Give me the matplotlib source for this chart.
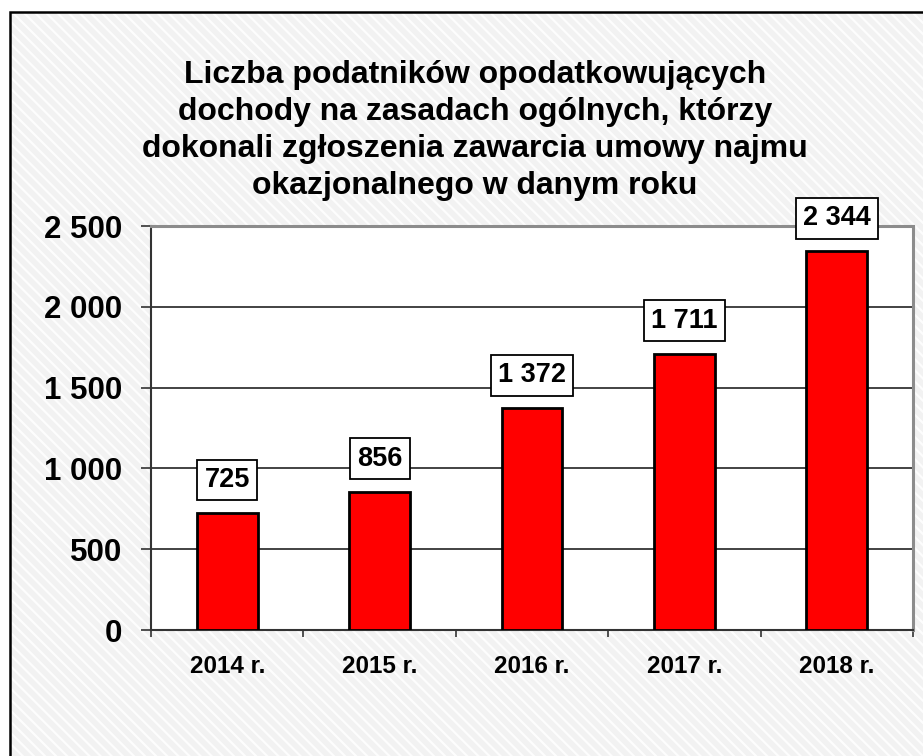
import matplotlib
matplotlib.use("Agg")
import matplotlib.pyplot as plt
from matplotlib.patches import Rectangle

categories = ["2014 r.", "2015 r.", "2016 r.", "2017 r.", "2018 r."]
values = [725, 856, 1372, 1711, 2344]
yticks = [0, 500, 1000, 1500, 2000, 2500]
title_lines = [
    "Liczba podatników opodatkowujących",
    "dochody na zasadach ogólnych, którzy",
    "dokonali zgłoszenia zawarcia umowy najmu",
    "okazjonalnego w danym roku",
]

def fmt(v):
    return f"{v:,}".replace(",", " ")

plt.rcParams['font.family'] = ['Liberation Sans', 'DejaVu Sans']
plt.rcParams['font.weight'] = 'bold'
plt.rcParams['hatch.linewidth'] = 1.6
plt.rcParams['hatch.color'] = '#fdfdfd'

W, H = 923, 756
fig = plt.figure(figsize=(W / 100, H / 100), dpi=100, facecolor='white')

# background with diagonal hatch
bg = Rectangle((10 / W, 0), 1.0, 1 - 12 / H, transform=fig.transFigure,
               facecolor='#f2f2f2', edgecolor='#fdfdfd', hatch='\\\\\\', lw=0, zorder=-10)
fig.patches.append(bg)
border = Rectangle((10 / W, -0.01), 1.0, 1 - 12 / H + 0.01, transform=fig.transFigure,
                   facecolor='none', edgecolor='black', lw=1.8, zorder=-9)
fig.patches.append(border)

ax = fig.add_axes([151 / W, 1 - 630 / H, (913 - 151) / W, (630 - 226) / H])
ax.set_facecolor('white')

x = list(range(len(categories)))
ax.bar(x, values, width=0.4, color='#ff0000', edgecolor='black', linewidth=2, zorder=3)

ax.set_xlim(-0.5, len(categories) - 0.5)
ax.set_ylim(0, 2500)
ax.set_yticks(yticks)
ax.set_yticklabels([fmt(v) for v in yticks], fontsize=22.5, fontweight='bold')
ax.set_xticks(x)
ax.set_xticklabels(categories, fontsize=17.5, fontweight='bold')
ax.set_xticks([i + 0.5 for i in range(-1, len(categories))], minor=True)
ax.tick_params(axis='x', which='major', length=0, pad=18)
ax.tick_params(axis='x', which='minor', length=5, width=1.2, direction='out', color='#333333')
ax.tick_params(axis='y', length=7, width=1.2, direction='out', pad=14, color='#333333')

ax.grid(axis='y', color='#222222', lw=1.2, zorder=1)
for s in ['top', 'right']:
    ax.spines[s].set_color('#8c8c8c')
    ax.spines[s].set_linewidth(2.2)
for s in ['left', 'bottom']:
    ax.spines[s].set_color('#333333')
    ax.spines[s].set_linewidth(1.5)

for xi, v in zip(x, values):
    ax.annotate(fmt(v), (xi, v), xytext=(0, 33), textcoords='offset pixels',
                ha='center', va='center', fontsize=19.5, fontweight='bold', zorder=5,
                bbox=dict(boxstyle='square,pad=0.27', fc='white', ec='black', lw=1.3))

baselines = [83, 120, 157, 194]
for line, b in zip(title_lines, baselines):
    fig.text(475 / W, 1 - b / H, line, ha='center', va='baseline',
             fontsize=23, fontweight='bold')

fig.savefig('out.png', dpi=100, facecolor='white')
